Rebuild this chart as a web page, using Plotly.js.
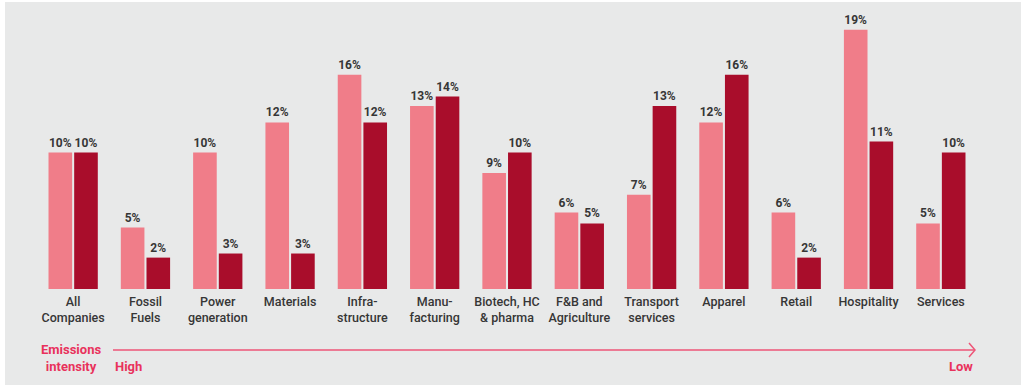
<!DOCTYPE html>
<html>
<head>
<meta charset="utf-8">
<script src="https://cdn.plot.ly/plotly-3.0.1.min.js"></script>
<style>html,body{margin:0;padding:0;background:#fff}#chart{width:1029px;height:392px}</style>
</head>
<body>
<div id="chart"></div>
<script>
// Data
var categories = ["All<br>Companies", "Fossil<br>Fuels", "Power<br>generation", "Materials", "Infra-<br>structure", "Manu-<br>facturing", "Biotech, HC<br>& pharma", "F&B and<br>Agriculture", "Transport<br>services", "Apparel", "Retail", "Hospitality", "Services"];
var seriesA = [10, 4.5, 10, 12.2, 15.7, 13.4, 8.5, 5.6, 6.9, 12.2, 5.6, 19, 4.8];
var seriesB = [10, 2.3, 2.6, 2.6, 12.2, 14.1, 10, 4.8, 13.4, 15.7, 2.3, 10.8, 10];
var labelsA = ["10%", "5%", "10%", "12%", "16%", "13%", "9%", "6%", "7%", "12%", "6%", "19%", "5%"];
var labelsB = ["10%", "2%", "3%", "3%", "12%", "14%", "10%", "5%", "13%", "16%", "2%", "11%", "10%"];

var W = 1029, H = 392;
var mL = 37, mR = 52, mT = 16, mB = 103;
var pw = W - mL - mR, ph = H - mT - mB;
function px(x){ return (x - mL) / pw; }
function py(y){ return (H - mB - y) / ph; }

var red = "#e8325c";
var valFont = {family: "Roboto, 'Noto Sans', sans-serif", size: 12, color: "#363636", weight: 700};

var traceA = {
  type: "bar", x: categories, y: seriesA, text: labelsA,
  textposition: "outside", textfont: valFont, cliponaxis: false,
  marker: {color: "#f07d89"}, hoverinfo: "skip"
};
var traceB = {
  type: "bar", x: categories, y: seriesB, text: labelsB,
  textposition: "outside", textfont: valFont, cliponaxis: false,
  marker: {color: "#a90d2b"}, hoverinfo: "skip"
};

var layout = {
  width: W, height: H,
  margin: {l: mL, r: mR, t: mT, b: mB},
  paper_bgcolor: "#ffffff",
  plot_bgcolor: "rgba(0,0,0,0)",
  barmode: "group", bargap: 0.29, bargroupgap: 0.08,
  showlegend: false,
  font: {family: "Roboto, 'Noto Sans', sans-serif", color: "#333333"},
  xaxis: {
    type: "category", range: [-0.5, 12.5], showgrid: false, zeroline: false,
    showline: false, ticks: "", fixedrange: true, ticklabelstandoff: 3,
    tickfont: {family: "Roboto, 'Noto Sans', sans-serif", size: 12.5, color: "#363636", weight: 500}
  },
  yaxis: {
    range: [0, 20], showgrid: false, zeroline: false, showline: false,
    showticklabels: false, ticks: "", fixedrange: true
  },
  shapes: [
    {type: "rect", xref: "paper", yref: "paper", x0: px(5), x1: px(1021), y0: py(385), y1: py(2),
     fillcolor: "#e8e9e9", line: {width: 0}, layer: "below"},
    {type: "line", xref: "paper", yref: "paper", x0: px(113), x1: px(975), y0: py(350), y1: py(350),
     line: {color: "#ee5577", width: 1.5}},
    {type: "path", xref: "paper", yref: "paper",
     path: "M " + px(969) + " " + py(343) + " L " + px(975) + " " + py(350) + " L " + px(969) + " " + py(357),
     line: {color: "#ee5577", width: 1.5}}
  ],
  annotations: [
    {xref: "paper", yref: "paper", x: px(71), y: py(358), text: "Emissions<br>intensity",
     showarrow: false, xanchor: "center", yanchor: "middle",
     font: {family: "Roboto, 'Noto Sans', sans-serif", size: 13, color: red, weight: 700}},
    {xref: "paper", yref: "paper", x: px(113), y: py(367), text: "High",
     showarrow: false, xanchor: "left", yanchor: "middle",
     font: {family: "Roboto, 'Noto Sans', sans-serif", size: 13, color: red, weight: 700}},
    {xref: "paper", yref: "paper", x: px(975), y: py(367), text: "Low",
     showarrow: false, xanchor: "right", yanchor: "middle",
     font: {family: "Roboto, 'Noto Sans', sans-serif", size: 13, color: red, weight: 700}}
  ]
};

Plotly.newPlot("chart", [traceA, traceB], layout, {displayModeBar: false, staticPlot: true});
</script>
</body>
</html>
